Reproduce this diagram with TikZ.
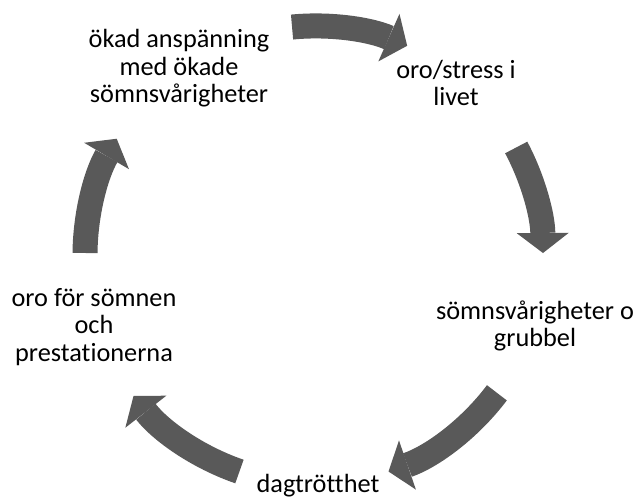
\documentclass[tikz,border=0pt]{standalone}
\usepackage{fontspec}
\setmainfont{Carlito}[Ligatures=NoCommon]
\usepackage{tikz}
\usetikzlibrary{arrows.meta}
\definecolor{arrowgray}{RGB}{89,89,89}

\begin{document}
\begin{tikzpicture}[x=0.025cm,y=0.025cm,
    cycletext/.style={align=center, inner sep=0pt, font=\fontsize{18.7}{19.6}\selectfont},
    cyclearrow/.style={draw=arrowgray, line width=0.625cm,
      -{Triangle[width=1.3cm,length=0.5cm,line width=0pt]}}]
    \useasboundingbox (0,0) rectangle (640,497);

    \node[cycletext] (tension) at (179,428.5) {ökad anspänning\\med ökade\\sömnsvårigheter};
    \node[cycletext] (stress) at (456,414) {oro/stress i\\livet};
    \node[cycletext] (sleep) at (535,171) {sömnsvårigheter o\\grubbel};
    \node[cycletext] (tired) at (318,11.5) {dagtrötthet};
    \node[cycletext] (worry) at (94,170) {oro för sömnen\\och\\prestationerna};

    % circle the arrows run on
    \coordinate (c) at (314,242);

    \draw[cyclearrow] (c) ++(95.5:229) arc[start angle=95.5, end angle=66, radius=5.725cm];
    \draw[cyclearrow] (c) ++(28:229) arc[start angle=28, end angle=0.5, radius=5.725cm];
    \draw[cyclearrow] (c) ++(-37:229) arc[start angle=-37, end angle=-71, radius=5.725cm];
    \draw[cyclearrow] (c) ++(-109:229) arc[start angle=-109, end angle=-142, radius=5.725cm];
    \draw[cyclearrow] (c) ++(179.5:229) arc[start angle=179.5, end angle=149.5, radius=5.725cm];
\end{tikzpicture}
\end{document}
